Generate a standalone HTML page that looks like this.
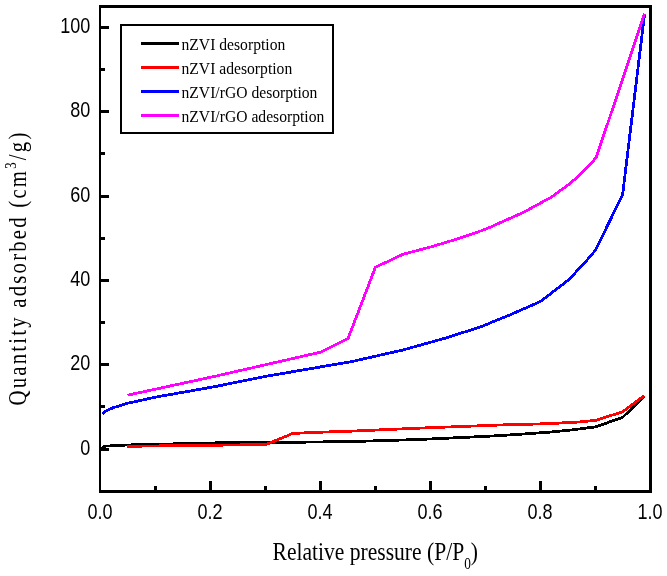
<!DOCTYPE html>
<html><head><meta charset="utf-8"><title>N2 adsorption-desorption isotherms</title>
<style>
html,body{margin:0;padding:0;background:#fff;}
svg{display:block;}
.tk{font-family:"Liberation Sans",Arial,sans-serif;font-size:22px;fill:#000;}
.lg{font-family:"Liberation Serif","Times New Roman",serif;font-size:17px;fill:#000;}
.ti{font-family:"Liberation Serif","Times New Roman",serif;font-size:24px;fill:#000;}
</style></head><body>
<svg width="667" height="576" viewBox="0 0 667 576">
<rect x="0" y="0" width="667" height="576" fill="#fff"/>
<polyline points="101.5,448.5 104.0,446.2 127.0,445.0 215.0,442.9 265.0,442.6 350.0,441.6 419.0,439.5 460.0,437.6 500.0,435.6 548.0,432.3 572.0,429.9 596.0,426.8 622.8,417.2 644.3,396.0" fill="none" stroke="#000" stroke-width="2.8" stroke-linejoin="round" shape-rendering="crispEdges"/>
<polyline points="127.2,446.3 215.0,445.2 265.8,444.6 292.9,433.4 320.0,432.2 350.0,431.2 420.0,428.1 500.0,425.0 548.0,423.7 579.0,422.0 596.0,420.3 622.8,411.7 644.3,395.6" fill="none" stroke="#f00" stroke-width="2.8" stroke-linejoin="round" shape-rendering="crispEdges"/>
<polyline points="102.2,414.0 106.0,411.0 113.0,407.8 127.5,403.3 155.0,397.2 215.0,386.6 265.0,376.5 320.0,367.0 350.0,362.0 375.0,356.3 403.0,350.0 445.0,338.2 480.0,327.1 512.0,314.0 540.5,301.5 568.0,280.3 583.3,264.4 595.5,250.2 622.6,194.7 644.6,13.7" fill="none" stroke="#00f" stroke-width="2.8" stroke-linejoin="round" shape-rendering="crispEdges"/>
<polyline points="127.6,395.2 215.0,376.3 320.4,352.2 348.0,338.7 375.4,267.3 403.0,254.3 430.5,247.0 458.0,238.8 485.5,229.3 522.9,212.6 552.1,196.8 571.5,182.3 583.7,171.3 596.2,157.6 644.6,13.7" fill="none" stroke="#f0f" stroke-width="2.8" stroke-linejoin="round" shape-rendering="crispEdges"/>
<g shape-rendering="crispEdges" fill="#000">
<rect x="99" y="5" width="553" height="3"/>
<rect x="99" y="490" width="553" height="3"/>
<rect x="99" y="5" width="2" height="488"/>
<rect x="649" y="5" width="3" height="488"/>
<rect x="101" y="447.5" width="8" height="3"/>
<rect x="101" y="405.3" width="4" height="3"/>
<rect x="101" y="363.2" width="8" height="3"/>
<rect x="101" y="321.0" width="4" height="3"/>
<rect x="101" y="278.8" width="8" height="3"/>
<rect x="101" y="236.7" width="4" height="3"/>
<rect x="101" y="194.5" width="8" height="3"/>
<rect x="101" y="152.3" width="4" height="3"/>
<rect x="101" y="110.1" width="8" height="3"/>
<rect x="101" y="68.0" width="4" height="3"/>
<rect x="101" y="25.8" width="8" height="3"/>
<rect x="154.0" y="486" width="3" height="5"/>
<rect x="209.0" y="481" width="3" height="10"/>
<rect x="264.0" y="486" width="3" height="5"/>
<rect x="319.0" y="481" width="3" height="10"/>
<rect x="374.0" y="486" width="3" height="5"/>
<rect x="429.0" y="481" width="3" height="10"/>
<rect x="484.0" y="486" width="3" height="5"/>
<rect x="539.0" y="481" width="3" height="10"/>
<rect x="594.0" y="486" width="3" height="5"/>
</g>
<text class="tk" transform="translate(90.3,454.7) scale(0.82,1)" text-anchor="end">0</text>
<text class="tk" transform="translate(90.3,370.4) scale(0.82,1)" text-anchor="end">20</text>
<text class="tk" transform="translate(90.3,286.0) scale(0.82,1)" text-anchor="end">40</text>
<text class="tk" transform="translate(90.3,201.7) scale(0.82,1)" text-anchor="end">60</text>
<text class="tk" transform="translate(90.3,117.3) scale(0.82,1)" text-anchor="end">80</text>
<text class="tk" transform="translate(90.3,33.0) scale(0.82,1)" text-anchor="end">100</text>
<text class="tk" transform="translate(100.1,519) scale(0.82,1)" text-anchor="middle">0.0</text>
<text class="tk" transform="translate(210.1,519) scale(0.82,1)" text-anchor="middle">0.2</text>
<text class="tk" transform="translate(320.1,519) scale(0.82,1)" text-anchor="middle">0.4</text>
<text class="tk" transform="translate(430.1,519) scale(0.82,1)" text-anchor="middle">0.6</text>
<text class="tk" transform="translate(540.1,519) scale(0.82,1)" text-anchor="middle">0.8</text>
<text class="tk" transform="translate(650.1,519) scale(0.82,1)" text-anchor="middle">1.0</text>
<rect x="121" y="25" width="212" height="107.5" fill="#fff" stroke="#000" stroke-width="2" shape-rendering="crispEdges"/>
<rect x="141" y="42.0" width="38" height="3" fill="#000" shape-rendering="crispEdges"/>
<text class="lg" transform="translate(181.5,49.5) scale(0.92,1)">nZVI desorption</text>
<rect x="141" y="66.0" width="38" height="3" fill="#f00" shape-rendering="crispEdges"/>
<text class="lg" transform="translate(181.5,73.5) scale(0.92,1)">nZVI adesorption</text>
<rect x="141" y="90.0" width="38" height="3" fill="#00f" shape-rendering="crispEdges"/>
<text class="lg" transform="translate(181.5,97.5) scale(0.92,1)">nZVI/rGO desorption</text>
<rect x="141" y="114.0" width="38" height="3" fill="#f0f" shape-rendering="crispEdges"/>
<text class="lg" transform="translate(181.5,121.5) scale(0.92,1)">nZVI/rGO adesorption</text>
<text class="ti" font-size="26" style="font-size:26px" transform="translate(272.5,559.8) scale(0.83,1)">Relative pressure (P/P<tspan style="font-size:16px" dy="9">0</tspan><tspan dy="-9">)</tspan></text>
<text class="ti" style="font-size:26px;letter-spacing:2.75px" transform="translate(25.6,405.5) rotate(-90) scale(0.8,1)">Quantity adsorbed (cm<tspan style="font-size:16px" dy="-10">3</tspan><tspan dy="10">/g)</tspan></text>
</svg></body></html>
